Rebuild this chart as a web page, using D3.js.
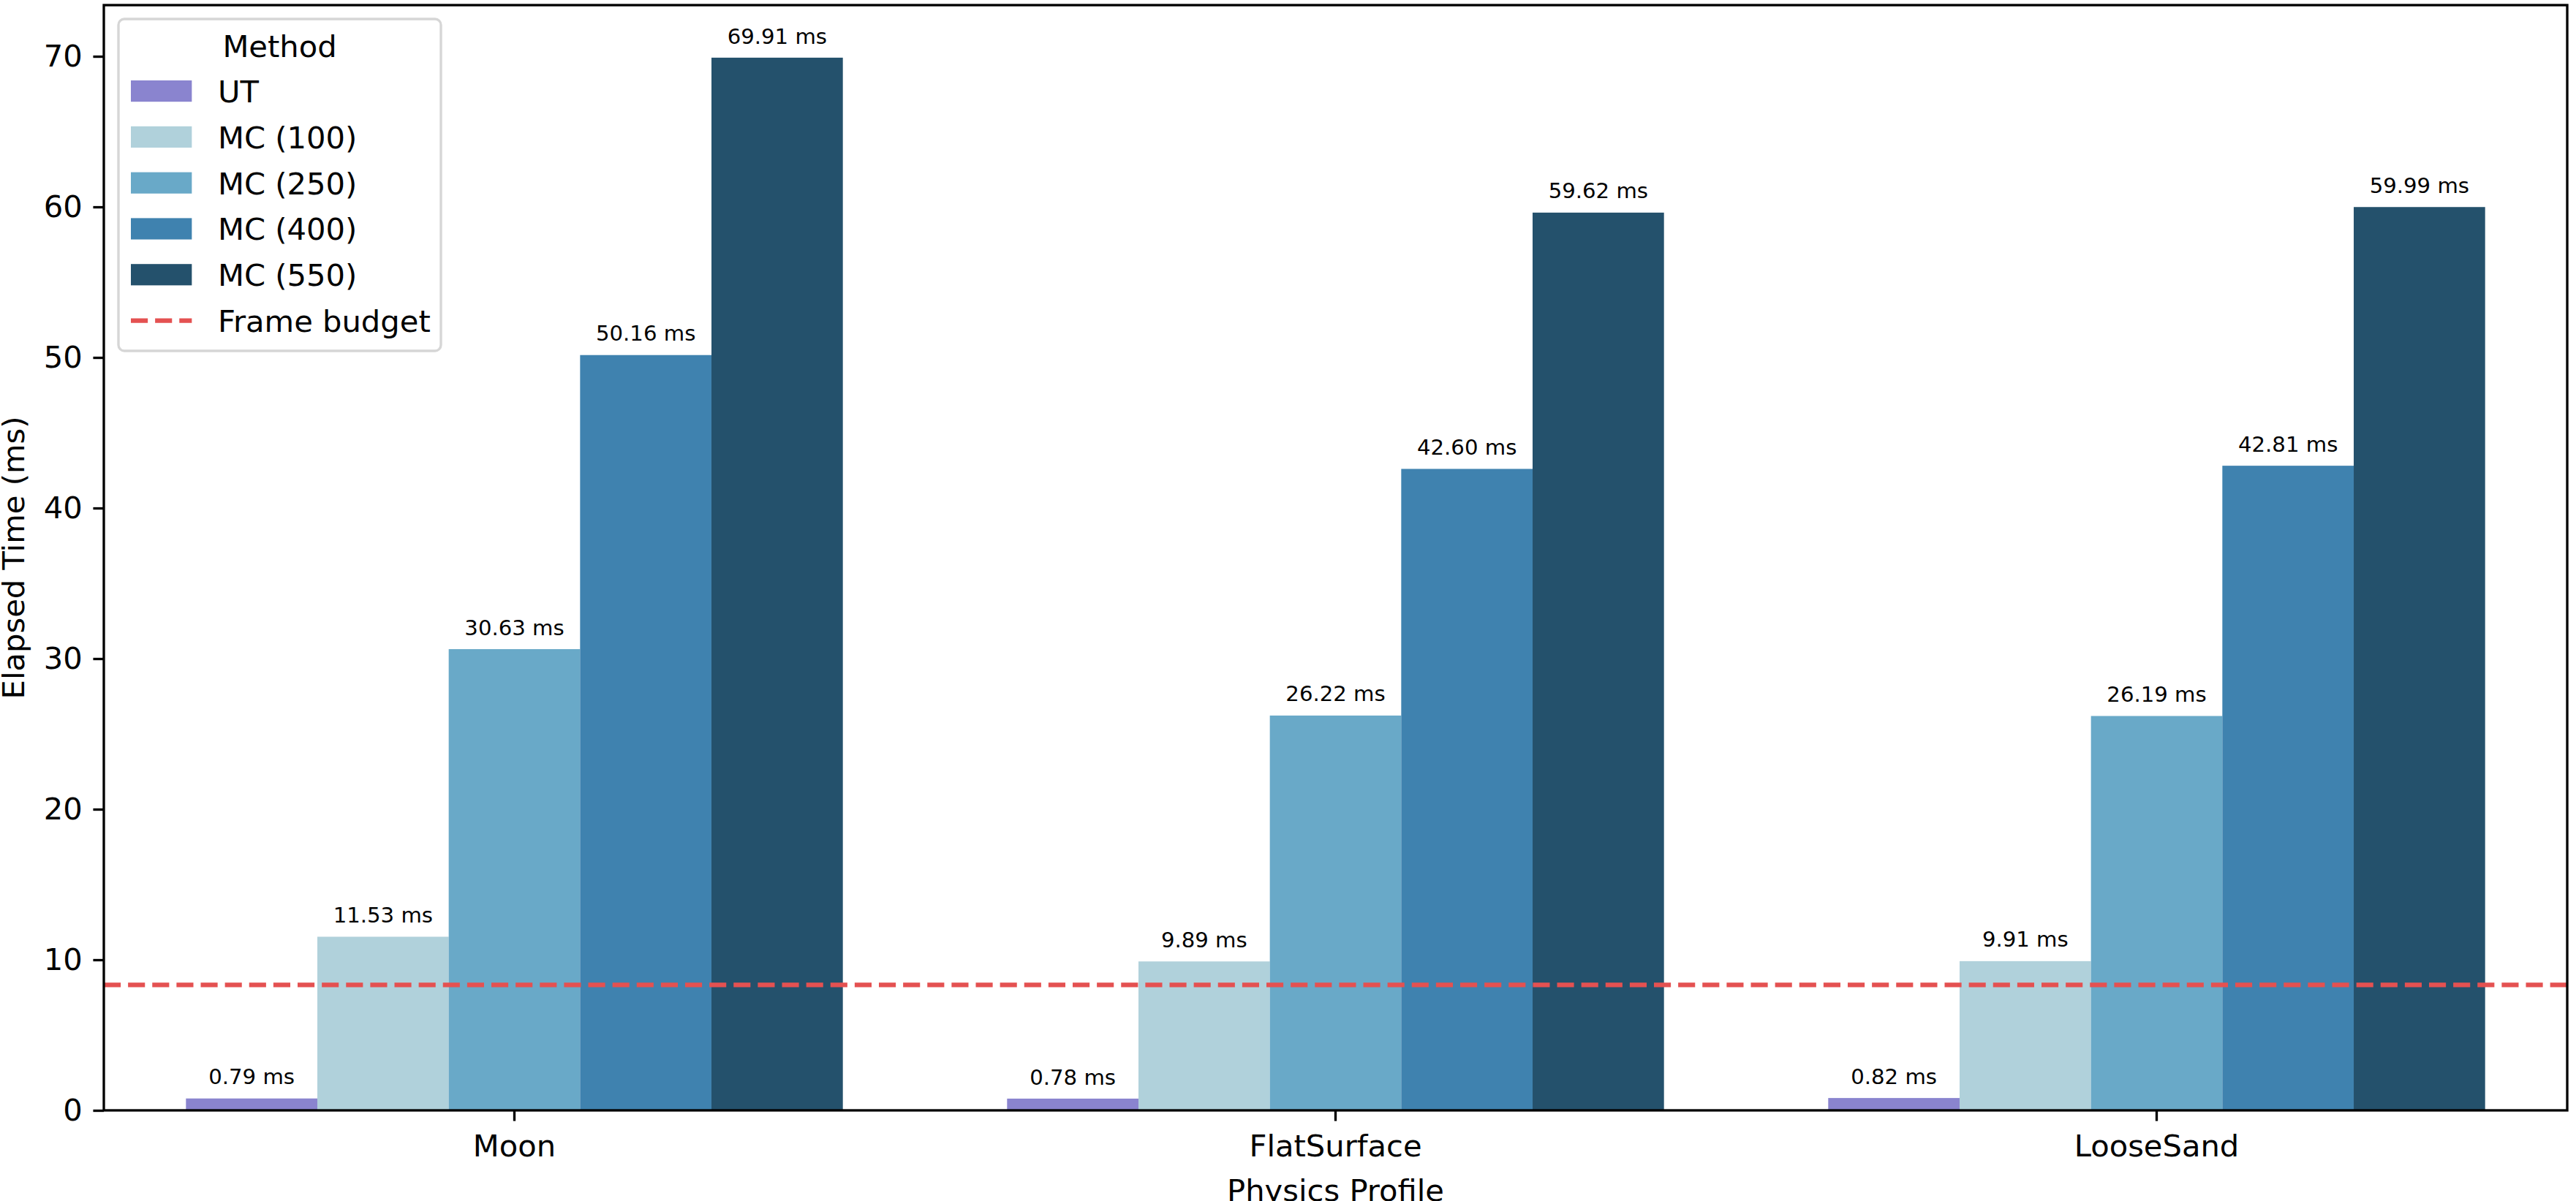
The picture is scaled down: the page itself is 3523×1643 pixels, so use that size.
<!DOCTYPE html>
<html>
<head>
<meta charset="utf-8">
<script src="https://cdn.jsdelivr.net/npm/d3@7"></script>
<style>
	body { margin: 0; background: white; }
	svg { display: block; font-family: 'DejaVu Sans', sans-serif; }
</style>
</head>
<body>
<svg id="chart" width="3523" height="1643"></svg>
<script>

// data
var profiles = ['Moon', 'FlatSurface', 'LooseSand']
var methods = ['UT', 'MC (100)', 'MC (250)', 'MC (400)', 'MC (550)']
var colors = ['#8a84cf', '#b0d1db', '#69a9c8', '#3f82af', '#24516c']

var utTimes    = [0.79, 0.78, 0.82]
var mc100Times = [11.53, 9.89, 9.91]
var mc250Times = [30.63, 26.22, 26.19]
var mc400Times = [50.16, 42.60, 42.81]
var mc550Times = [69.91, 59.62, 59.99]

var yTicks = [0, 10, 20, 30, 40, 50, 60, 70]
var frameBudget = 1000 / 120

var seriesValues = [utTimes, mc100Times, mc250Times, mc400Times, mc550Times]

var margin = {
	'left' : 142,
	'right' : 12,
	'top' : 7,
	'bottom' : 124,
}

var pt = 300 / 72 / 1   // px per point
var fontSize = 10 * 300 / 72
var smallFont = 7 * 300 / 72
var lw = 0.8 * 300 / 72

window.addEventListener('load', function ()
{
	var svg = d3.select('#chart')
	var width = +svg.attr('width')
	var height = +svg.attr('height')
	var w = width - margin.left - margin.right
	var h = height - margin.top - margin.bottom

	var graph = svg.append('g')
		.attr('transform', 'translate(' + margin.left + ',' + margin.top + ')')

	var xscale = d3.scaleBand().domain(profiles).range([0, w]).paddingInner(0.2).paddingOuter(0.1)
	var xsub = d3.scaleBand().domain(methods).range([0, xscale.bandwidth()])
	var yscale = d3.scaleLinear().domain([0, 73.4]).range([h, 0])

	var data = []
	for (var i = 0; i < seriesValues.length; i++) {
		for (var j = 0; j < profiles.length; j++) {
			data.push({method: methods[i], profile: profiles[j], value: seriesValues[i][j], color: colors[i]})
		}
	}

	graph.selectAll('.bar').data(data)
		.enter().append('rect')
			.attr('class', 'bar')
			.attr('x', d => xscale(d.profile) + xsub(d.method))
			.attr('width', xsub.bandwidth())
			.attr('y', d => yscale(d.value))
			.attr('height', d => h - yscale(d.value))
			.attr('fill', d => d.color)

	graph.selectAll('.barlabel').data(data)
		.enter().append('text')
			.attr('class', 'barlabel')
			.attr('x', d => xscale(d.profile) + xsub(d.method) + xsub.bandwidth() / 2)
			.attr('y', d => yscale(d.value) - 3 * pt - 0.236 * smallFont)
			.attr('text-anchor', 'middle')
			.style('font-size', smallFont + 'px')
			.text(d => d.value.toFixed(2) + ' ms')

	// frame budget line
	graph.append('line')
		.attr('x1', 0).attr('x2', w)
		.attr('y1', yscale(frameBudget)).attr('y2', yscale(frameBudget))
		.attr('stroke', '#e45151')
		.attr('stroke-width', 1.5 * pt)
		.attr('stroke-dasharray', (3.7 * 1.5 * pt) + ',' + (1.6 * 1.5 * pt))

	var xAxis = graph.append('g')
		.attr('transform', 'translate(0,' + h + ')')
		.call(d3.axisBottom(xscale).tickSize(3.5 * pt).tickPadding(3.5 * pt + 4))
	var yAxis = graph.append('g')
		.call(d3.axisLeft(yscale).tickValues(yTicks).tickSize(3.5 * pt).tickPadding(3.5 * pt))

	graph.selectAll('.domain').remove()
	graph.selectAll('.tick line').attr('stroke', 'black').attr('stroke-width', lw)
	graph.selectAll('.tick text')
		.attr('fill', 'black')
		.style('font-size', fontSize + 'px')
		.style('font-family', "'DejaVu Sans', sans-serif")

	// spines
	graph.append('rect')
		.attr('x', 0).attr('y', 0)
		.attr('width', w).attr('height', h)
		.attr('fill', 'none')
		.attr('stroke', 'black')
		.attr('stroke-width', lw)

	svg.append('text')
		.attr('transform', 'translate(' + (margin.left + w / 2) + ',' + 1643 + ')')
		.attr('text-anchor', 'middle')
		.style('font-size', fontSize + 'px')
		.text('Physics Profile')

	svg.append('text')
		.attr('transform', 'translate(' + 33 + ',' + (margin.top + h / 2) + ')rotate(-90)')
		.attr('text-anchor', 'middle')
		.style('font-size', fontSize + 'px')
		.text('Elapsed Time (ms)')

	//MARK: legend
	var legend = svg.append('g').attr('transform', 'translate(162,26)')
	legend.append('rect')
		.attr('x', 0).attr('y', 0)
		.attr('width', 441).attr('height', 454)
		.attr('rx', 8).attr('ry', 8)
		.attr('fill', 'white').attr('fill-opacity', 0.8)
		.attr('stroke', '#d6d6d6')
		.attr('stroke-width', lw)

	legend.append('text')
		.attr('x', 220.5).attr('y', 52)
		.attr('text-anchor', 'middle')
		.style('font-size', fontSize + 'px')
		.text('Method')

	var rowPitch = 62.8
	var rows = legend.selectAll('.entry').data(methods)
		.enter().append('g')
			.attr('class', 'entry')
			.attr('transform', (d, i) => 'translate(0,' + (84 + i * rowPitch) + ')')
	rows.append('rect')
		.attr('x', 17).attr('y', 0)
		.attr('width', 2 * fontSize).attr('height', 0.7 * fontSize)
		.attr('fill', (d, i) => colors[i])
	rows.append('text')
		.attr('x', 136).attr('y', 30)
		.style('font-size', fontSize + 'px')
		.text(d => d)

	var budgetRow = legend.append('g')
		.attr('transform', 'translate(0,' + (84 + 5 * rowPitch) + ')')
	budgetRow.append('line')
		.attr('x1', 17).attr('x2', 17 + 2 * fontSize)
		.attr('y1', 0.35 * fontSize).attr('y2', 0.35 * fontSize)
		.attr('stroke', '#e45151')
		.attr('stroke-width', 1.5 * pt)
		.attr('stroke-dasharray', (3.7 * 1.5 * pt) + ',' + (1.6 * 1.5 * pt))
	budgetRow.append('text')
		.attr('x', 136).attr('y', 30)
		.style('font-size', fontSize + 'px')
		.text('Frame budget')

	console.log('chart drawn')
});
</script>
</body>
</html>
